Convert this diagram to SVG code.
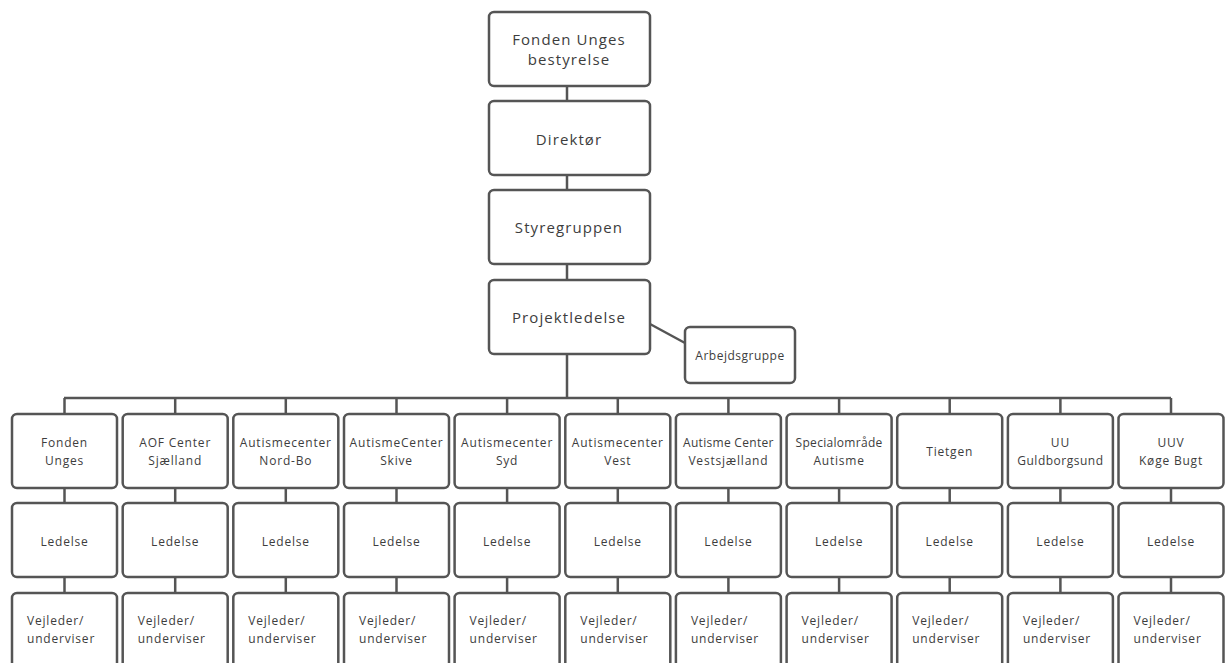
<svg xmlns="http://www.w3.org/2000/svg" width="1227" height="663" viewBox="0 0 1227 663">
<style>
.b{fill:#fff;stroke:#555;stroke-width:2.5}
.c{fill:none;stroke:#555;stroke-width:2.5}
.t{font-family:"Open Sans","Liberation Sans",sans-serif;fill:#3d3d3d;text-anchor:middle}
.L{font-size:15px;letter-spacing:1.1px}
.s{font-size:12px;letter-spacing:0.8px}
.l{text-anchor:start}
</style>
<rect width="1227" height="663" fill="#fff"/>
<g id="connectors">
<path class="c" d="M567 86V101M567 175V190M567 264V280M567 354V398M650 324L685 343M64 398H1171"/>
<path class="c" d="M64.5 398V414M64.5 488V503M64.5 577V593
M175.2 398V414M175.2 488V503M175.2 577V593
M285.8 398V414M285.8 488V503M285.8 577V593
M396.5 398V414M396.5 488V503M396.5 577V593
M507.1 398V414M507.1 488V503M507.1 577V593
M617.8 398V414M617.8 488V503M617.8 577V593
M728.4 398V414M728.4 488V503M728.4 577V593
M839.1 398V414M839.1 488V503M839.1 577V593
M949.7 398V414M949.7 488V503M949.7 577V593
M1060.4 398V414M1060.4 488V503M1060.4 577V593
M1171 398V414M1171 488V503M1171 577V593"/>
</g>
<g id="bestyrelse"><rect class="b" x="489" y="12" width="161" height="74" rx="5"/><text class="t L" x="569" y="45">Fonden Unges</text><text class="t L" x="569" y="65">bestyrelse</text></g>
<g id="direktor"><rect class="b" x="489" y="101" width="161" height="74" rx="5"/><text class="t L" x="569" y="145">Direktør</text></g>
<g id="styregruppen"><rect class="b" x="489" y="190" width="161" height="74" rx="5"/><text class="t L" x="569" y="233">Styregruppen</text></g>
<g id="projektledelse"><rect class="b" x="489" y="280" width="161" height="74" rx="5"/><text class="t L" x="569" y="323">Projektledelse</text></g>
<g id="arbejdsgruppe"><rect class="b" x="685" y="327" width="110" height="56" rx="5"/><text class="t s" x="740" y="360" style="letter-spacing:0.5px">Arbejdsgruppe</text></g>

<g id="col1"><rect class="b" x="12" y="414" width="105" height="74" rx="5"/><text class="t s" x="64.5" y="447">Fonden</text><text class="t s" x="64.5" y="465">Unges</text>
<rect class="b" x="12" y="503" width="105" height="74" rx="5"/><text class="t s" x="64.5" y="546">Ledelse</text>
<rect class="b" x="12" y="593" width="105" height="90" rx="5"/><text class="t s l" x="27" y="625">Vejleder/</text><text class="t s l" x="27" y="643">underviser</text></g>

<g id="col2"><rect class="b" x="122.7" y="414" width="105" height="74" rx="5"/><text class="t s" x="175.2" y="447">AOF Center</text><text class="t s" x="175.2" y="465">Sjælland</text>
<rect class="b" x="122.7" y="503" width="105" height="74" rx="5"/><text class="t s" x="175.2" y="546">Ledelse</text>
<rect class="b" x="122.7" y="593" width="105" height="90" rx="5"/><text class="t s l" x="137.7" y="625">Vejleder/</text><text class="t s l" x="137.7" y="643">underviser</text></g>

<g id="col3"><rect class="b" x="233.3" y="414" width="105" height="74" rx="5"/><text class="t s" x="285.8" y="447">Autismecenter</text><text class="t s" x="285.8" y="465">Nord-Bo</text>
<rect class="b" x="233.3" y="503" width="105" height="74" rx="5"/><text class="t s" x="285.8" y="546">Ledelse</text>
<rect class="b" x="233.3" y="593" width="105" height="90" rx="5"/><text class="t s l" x="248.3" y="625">Vejleder/</text><text class="t s l" x="248.3" y="643">underviser</text></g>

<g id="col4"><rect class="b" x="344" y="414" width="105" height="74" rx="5"/><text class="t s" x="396.5" y="447">AutismeCenter</text><text class="t s" x="396.5" y="465">Skive</text>
<rect class="b" x="344" y="503" width="105" height="74" rx="5"/><text class="t s" x="396.5" y="546">Ledelse</text>
<rect class="b" x="344" y="593" width="105" height="90" rx="5"/><text class="t s l" x="359" y="625">Vejleder/</text><text class="t s l" x="359" y="643">underviser</text></g>

<g id="col5"><rect class="b" x="454.6" y="414" width="105" height="74" rx="5"/><text class="t s" x="507.1" y="447">Autismecenter</text><text class="t s" x="507.1" y="465">Syd</text>
<rect class="b" x="454.6" y="503" width="105" height="74" rx="5"/><text class="t s" x="507.1" y="546">Ledelse</text>
<rect class="b" x="454.6" y="593" width="105" height="90" rx="5"/><text class="t s l" x="469.6" y="625">Vejleder/</text><text class="t s l" x="469.6" y="643">underviser</text></g>

<g id="col6"><rect class="b" x="565.3" y="414" width="105" height="74" rx="5"/><text class="t s" x="617.8" y="447">Autismecenter</text><text class="t s" x="617.8" y="465">Vest</text>
<rect class="b" x="565.3" y="503" width="105" height="74" rx="5"/><text class="t s" x="617.8" y="546">Ledelse</text>
<rect class="b" x="565.3" y="593" width="105" height="90" rx="5"/><text class="t s l" x="580.3" y="625">Vejleder/</text><text class="t s l" x="580.3" y="643">underviser</text></g>

<g id="col7"><rect class="b" x="675.9" y="414" width="105" height="74" rx="5"/><text class="t s" x="728.4" y="447" style="letter-spacing:0.3px">Autisme Center</text><text class="t s" x="728.4" y="465">Vestsjælland</text>
<rect class="b" x="675.9" y="503" width="105" height="74" rx="5"/><text class="t s" x="728.4" y="546">Ledelse</text>
<rect class="b" x="675.9" y="593" width="105" height="90" rx="5"/><text class="t s l" x="690.9" y="625">Vejleder/</text><text class="t s l" x="690.9" y="643">underviser</text></g>

<g id="col8"><rect class="b" x="786.6" y="414" width="105" height="74" rx="5"/><text class="t s" x="839.1" y="447" style="letter-spacing:0.3px">Specialområde</text><text class="t s" x="839.1" y="465">Autisme</text>
<rect class="b" x="786.6" y="503" width="105" height="74" rx="5"/><text class="t s" x="839.1" y="546">Ledelse</text>
<rect class="b" x="786.6" y="593" width="105" height="90" rx="5"/><text class="t s l" x="801.6" y="625">Vejleder/</text><text class="t s l" x="801.6" y="643">underviser</text></g>

<g id="col9"><rect class="b" x="897.2" y="414" width="105" height="74" rx="5"/><text class="t s" x="949.7" y="456">Tietgen</text>
<rect class="b" x="897.2" y="503" width="105" height="74" rx="5"/><text class="t s" x="949.7" y="546">Ledelse</text>
<rect class="b" x="897.2" y="593" width="105" height="90" rx="5"/><text class="t s l" x="912.2" y="625">Vejleder/</text><text class="t s l" x="912.2" y="643">underviser</text></g>

<g id="col10"><rect class="b" x="1007.9" y="414" width="105" height="74" rx="5"/><text class="t s" x="1060.4" y="447">UU</text><text class="t s" x="1060.4" y="465" style="letter-spacing:0.5px">Guldborgsund</text>
<rect class="b" x="1007.9" y="503" width="105" height="74" rx="5"/><text class="t s" x="1060.4" y="546">Ledelse</text>
<rect class="b" x="1007.9" y="593" width="105" height="90" rx="5"/><text class="t s l" x="1022.9" y="625">Vejleder/</text><text class="t s l" x="1022.9" y="643">underviser</text></g>

<g id="col11"><rect class="b" x="1118.5" y="414" width="105" height="74" rx="5"/><text class="t s" x="1171" y="447">UUV</text><text class="t s" x="1171" y="465">Køge Bugt</text>
<rect class="b" x="1118.5" y="503" width="105" height="74" rx="5"/><text class="t s" x="1171" y="546">Ledelse</text>
<rect class="b" x="1118.5" y="593" width="105" height="90" rx="5"/><text class="t s l" x="1133.5" y="625">Vejleder/</text><text class="t s l" x="1133.5" y="643">underviser</text></g>
</svg>
